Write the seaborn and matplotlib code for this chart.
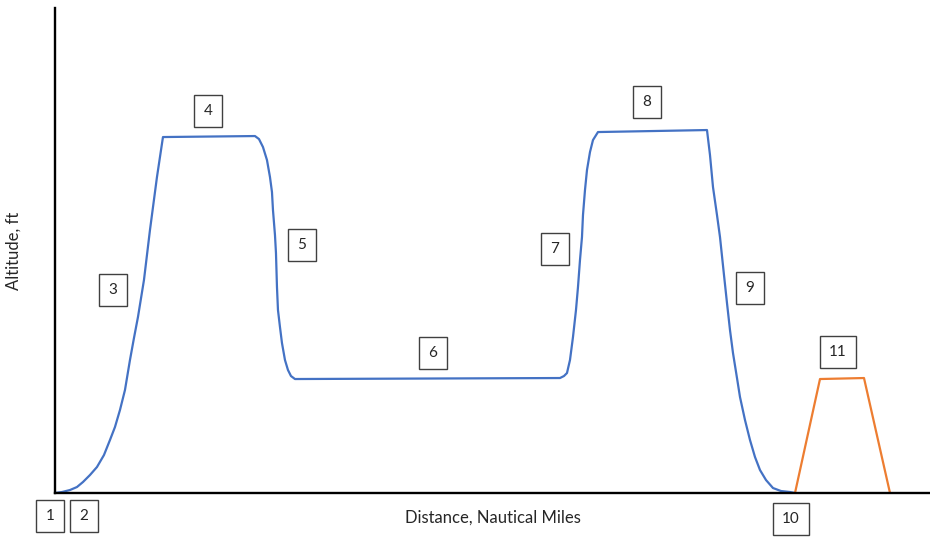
import matplotlib
matplotlib.use('Agg')
import matplotlib.pyplot as plt
import seaborn as sns
import pandas as pd

# Flight profile (distance units, altitude units)
main_distance = [0, 7, 15, 22, 28, 35, 42, 49, 55, 60, 65, 70, 75, 79, 83, 89, 95, 102, 108,
                 200, 204, 208, 212, 215, 217, 218, 220, 221, 222, 223, 225, 227, 230, 233, 236, 240,
                 505, 509, 512, 515, 518, 521, 523, 525, 527, 528, 530, 532, 535, 538, 543,
                 652, 655, 658, 662, 665, 669, 672, 675, 678, 682, 685, 690, 695, 700, 705,
                 711, 718, 726, 735, 740]
main_altitude = [0, 1, 3, 6, 11, 18, 26, 38, 53, 66, 83, 103, 133, 155, 176, 213, 263, 316, 356,
                 357, 354, 346, 333, 316, 301, 283, 258, 240, 206, 183, 166, 150, 133, 123, 117, 114,
                 115, 117, 120, 133, 156, 183, 206, 233, 256, 278, 303, 323, 341, 353, 361,
                 363, 338, 306, 278, 256, 218, 190, 163, 140, 115, 96, 73, 53, 36, 23,
                 13, 5, 2, 1, 0]

alt_distance = [740, 765, 809, 835]
alt_altitude = [0, 114, 115, 0]

labels = ['1', '2', '3', '4', '5', '6', '7', '8', '9', '10', '11']
label_x = [-5, 29, 58, 153, 247, 378, 500, 592, 695, 736, 783]
label_y = [-23, -23, 203, 382, 248, 140, 244, 391, 205, -26, 141]

main_df = pd.DataFrame({'distance': main_distance, 'altitude': main_altitude})
alt_df = pd.DataFrame({'distance': alt_distance, 'altitude': alt_altitude})

sns.set_style('white')
plt.rcParams['font.family'] = ['Lato', 'DejaVu Sans']

fig = plt.figure(figsize=(9.3, 5.37), dpi=100)
ax = fig.add_axes([0.0591, 0.0819, 0.9409, 0.9031])

sns.lineplot(data=main_df, x='distance', y='altitude', sort=False,
             color='#4472C4', linewidth=1.6, ax=ax)
sns.lineplot(data=alt_df, x='distance', y='altitude', sort=False,
             color='#ED7D31', linewidth=1.6, ax=ax)

ax.set_xlim(0, 875)
ax.set_ylim(0, 485)
ax.set_xticks([])
ax.set_yticks([])
sns.despine(ax=ax)
for side in ['left', 'bottom']:
    ax.spines[side].set_color('black')
    ax.spines[side].set_linewidth(1.7)

ax.set_xlabel('Distance, Nautical Miles', fontsize=12, color='#262626', labelpad=12)
ax.set_ylabel('Altitude, ft', fontsize=12, color='#262626', labelpad=24)

for lab, lx, ly in zip(labels, label_x, label_y):
    ax.text(lx, ly, lab, ha='center', va='center', fontsize=11, color='#262626',
            clip_on=False,
            bbox=dict(boxstyle='square,pad=0.6', facecolor='white',
                      edgecolor='#404040', linewidth=1.0))

fig.savefig('out.png', dpi=100)
